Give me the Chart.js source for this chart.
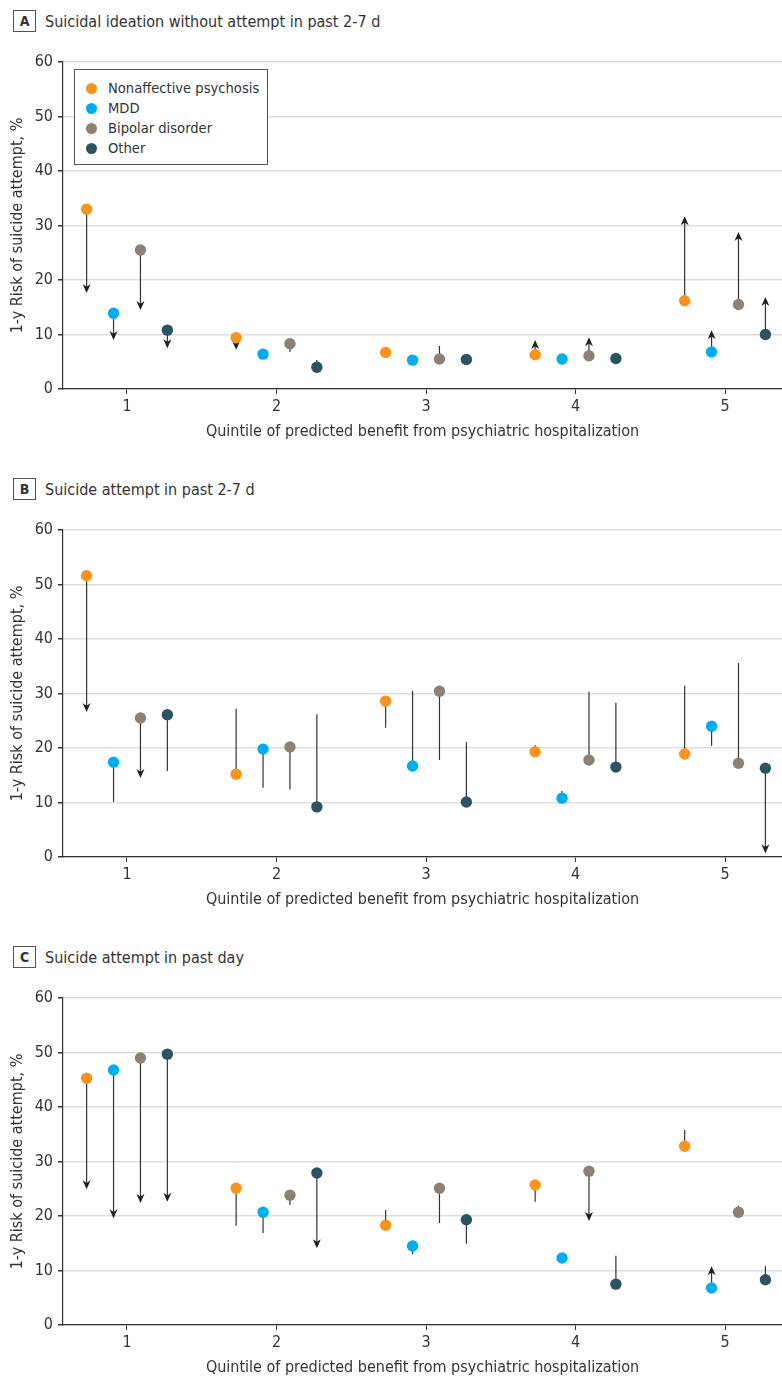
<!DOCTYPE html>
<html>
<head>
<meta charset="utf-8">
<script src="https://cdn.jsdelivr.net/npm/chart.js@4.4.1/dist/chart.umd.min.js"></script>
<style>
  html, body { margin: 0; padding: 0; background: #fff; overflow: hidden; }
  body {
    width: 782px; height: 1379px; position: relative;
    font-family: 'DejaVu Sans Condensed', 'Liberation Sans Narrow', Roboto, sans-serif;
    color: #333;
  }
  .panel-title { position: absolute; left: 13px; height: 22px; display: flex; align-items: center; font-size: 16px; }
  .panel-title .tag {
    width: 23px; height: 22px; box-sizing: border-box; border: 1.5px solid #555;
    display: flex; align-items: center; justify-content: center;
    font-weight: bold; font-size: 14px; margin-right: 9px;
  }
  .chart-box { position: absolute; left: 0; width: 782px; height: 405px; }
  .legend {
    position: absolute; left: 74px; top: 69px; width: 194px; height: 96px;
    box-sizing: border-box; border: 1px solid #555; background: #fff;
    padding-top: 8px; font-size: 14.6px;
  }
  .legend .row { position: relative; height: 20px; line-height: 20px; padding-left: 33px; }
  .legend .dot { position: absolute; left: 11px; top: 4.5px; width: 11px; height: 11px; border-radius: 50%; }
</style>
</head>
<body>

<div class="panel-title" style="top:10px"><span class="tag">A</span>Suicidal ideation without attempt in past 2-7 d</div>
<div class="chart-box" style="top:40px"><canvas id="chartA" width="782" height="405"></canvas></div>
<div class="legend" id="legend"></div>

<div class="panel-title" style="top:478px"><span class="tag">B</span>Suicide attempt in past 2-7 d</div>
<div class="chart-box" style="top:508px"><canvas id="chartB" width="782" height="405"></canvas></div>

<div class="panel-title" style="top:946px"><span class="tag">C</span>Suicide attempt in past day</div>
<div class="chart-box" style="top:976px"><canvas id="chartC" width="782" height="405"></canvas></div>

<script>
const quintiles = [1, 2, 3, 4, 5];
const yTicks = [0, 10, 20, 30, 40, 50, 60];
const groups = ['Nonaffective psychosis', 'MDD', 'Bipolar disorder', 'Other'];
const groupShift = [-0.27, -0.09, 0.09, 0.27];
const groupColors = ['#f7941d', '#00aeef', '#8b8174', '#2c5361'];

// rows = groups, cols = quintiles; risk = dot, end = where the line goes, arrow = 1 if arrowhead
const riskA = [
    [33.0, 9.4, 6.7, 6.3, 16.2],
    [13.9, 6.4, 5.3, 5.5, 6.8],
    [25.5, 8.3, 5.5, 6.1, 15.5],
    [10.8, 4.0, 5.4, 5.6, 10.0]
];
const endA = [
    [17.6, 7.2, null, 9.0, 31.7],
    [9.0, null, null, null, 10.8],
    [14.5, 6.8, 7.9, 9.5, 28.8],
    [7.5, 5.3, null, null, 16.9]
];
const arrowA = [
    [1, 1, 0, 1, 1],
    [1, 0, 0, 0, 1],
    [1, 0, 0, 1, 1],
    [1, 0, 0, 0, 1]
];

const riskB = [
    [51.6, 15.2, 28.6, 19.3, 18.9],
    [17.4, 19.8, 16.7, 10.8, 24.0],
    [25.5, 20.2, 30.4, 17.8, 17.2],
    [26.1, 9.2, 10.1, 16.5, 16.3]
];
const endB = [
    [26.6, 27.2, 23.7, 20.5, 31.4],
    [10.1, 12.7, 30.5, 12.1, 20.4],
    [14.5, 12.4, 17.8, 30.3, 35.6],
    [15.8, 26.2, 21.1, 28.3, 0.7]
];
const arrowB = [
    [1, 0, 0, 0, 0],
    [0, 0, 0, 0, 0],
    [1, 0, 0, 0, 0],
    [0, 0, 0, 0, 1]
];

const riskC = [
    [45.3, 25.1, 18.3, 25.7, 32.8],
    [46.8, 20.7, 14.5, 12.3, 6.8],
    [49.0, 23.8, 25.1, 28.2, 20.7],
    [49.7, 27.9, 19.3, 7.5, 8.3]
];
const endC = [
    [24.9, 18.2, 21.1, 22.6, 35.8],
    [19.6, 16.9, 13.0, null, 10.8],
    [22.4, 22.0, 18.7, 19.1, 21.9],
    [22.6, 14.1, 14.9, 12.7, 10.8]
];
const arrowC = [
    [1, 0, 0, 0, 0],
    [1, 0, 0, 0, 1],
    [1, 0, 0, 1, 0],
    [1, 1, 0, 0, 0]
];

const FONT = "'DejaVu Sans Condensed', 'Liberation Sans Narrow', Roboto, sans-serif";
Chart.defaults.font.family = FONT;
Chart.defaults.font.size = 16;
Chart.defaults.color = '#333';

// legend (html)
document.getElementById('legend').innerHTML = groups.map((g, i) => `
    <div class="row"><span class="dot" style="background:${groupColors[i]}"></span>${g}</div>
`).join('');

// stems + arrowheads, drawn under the dots
function stemPlugin(risk, end, arrow) {
    return {
        id: 'stems',
        beforeDatasetsDraw(chart) {
            const { ctx } = chart;
            const xs = chart.scales.x, ys = chart.scales.y;
            ctx.save();
            ctx.strokeStyle = '#333';
            ctx.fillStyle = '#1e1e1e';
            ctx.lineWidth = 1.2;
            risk.forEach((row, g) => row.forEach((v, q) => {
                const e = end[g][q];
                if (e == null) return;
                const px = xs.getPixelForValue(quintiles[q] + groupShift[g]);
                const y0 = ys.getPixelForValue(v);
                const y1 = ys.getPixelForValue(e);
                const dir = y1 > y0 ? 1 : -1;
                const head = arrow[g][q] ? 9 : 0;
                ctx.beginPath();
                ctx.moveTo(px, y0);
                ctx.lineTo(px, y1 - dir * head * 0.6);
                ctx.stroke();
                if (head) {
                    ctx.beginPath();
                    ctx.moveTo(px, y1);
                    ctx.lineTo(px - 4, y1 - dir * head);
                    ctx.lineTo(px, y1 - dir * head * 0.7);
                    ctx.lineTo(px + 4, y1 - dir * head);
                    ctx.closePath();
                    ctx.fill();
                }
            }));
            ctx.restore();
        }
    };
}

function makeChart(id, risk, end, arrow) {
    const ctx = document.getElementById(id).getContext('2d');
    return new Chart(ctx, {
        type: 'scatter',
        data: {
            datasets: groups.map((g, i) => ({
                label: g,
                data: quintiles.map((q, k) => ({ x: q + groupShift[i], y: risk[i][k] })),
                backgroundColor: groupColors[i],
                borderWidth: 0,
                pointRadius: 5.7,
                pointHoverRadius: 5.7
            }))
        },
        options: {
            responsive: false,
            animation: false,
            devicePixelRatio: 1,
            layout: { autoPadding: false, padding: { top: 22, right: 0, bottom: 0, left: 0 } },
            plugins: { legend: { display: false }, tooltip: { enabled: false } },
            scales: {
                x: {
                    type: 'linear',
                    min: 0.572,
                    max: 5.381,
                    afterBuildTicks: s => { s.ticks = quintiles.map(v => ({ value: v })); },
                    afterFit: s => { s.height = 56; },
                    grid: { drawOnChartArea: false, tickColor: '#333', tickLength: 5 },
                    border: { color: '#333', width: 1.2 },
                    ticks: { padding: 3, font: { size: 16 } },
                    title: {
                        display: true,
                        text: 'Quintile of predicted benefit from psychiatric hospitalization',
                        font: { size: 16 },
                        padding: { top: 0, bottom: 4 }
                    }
                },
                y: {
                    min: 0,
                    max: 60,
                    afterBuildTicks: s => { s.ticks = yTicks.map(v => ({ value: v })); },
                    afterFit: s => { s.width = 63; },
                    grid: { color: '#dedede', lineWidth: 1.5, tickColor: '#333', tickLength: 5 },
                    border: { color: '#333', width: 1.2 },
                    ticks: { padding: 5, font: { size: 16 } },
                    title: {
                        display: true,
                        text: '1-y Risk of suicide attempt, %',
                        font: { size: 16 },
                        padding: { top: 8, bottom: 0 }
                    }
                }
            }
        },
        plugins: [stemPlugin(risk, end, arrow)]
    });
}

makeChart('chartA', riskA, endA, arrowA);
makeChart('chartB', riskB, endB, arrowB);
makeChart('chartC', riskC, endC, arrowC);
</script>
</body>
</html>
